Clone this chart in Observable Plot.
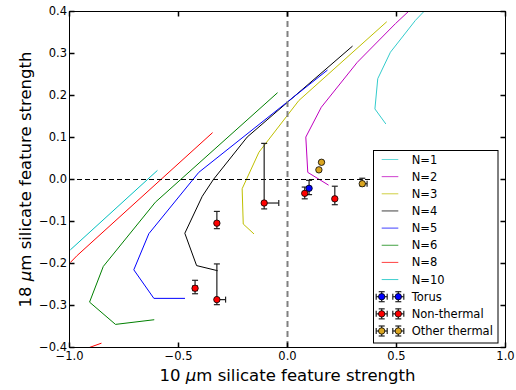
<!DOCTYPE html>
<html><head><meta charset="utf-8">
<script src="https://cdn.jsdelivr.net/npm/d3@7"></script>
<script src="https://cdn.jsdelivr.net/npm/@observablehq/plot@0.6"></script>
<style>
body{margin:0;background:#fff;}
#wrap{position:relative;width:516px;height:390px;font-family:"DejaVu Sans",sans-serif;}
#legend{position:absolute;left:373px;top:150px;}
</style></head><body><div id="wrap"></div>
<script>
// model curves (x = 10um strength, y = 18um strength)
const n1 = [[0.450,0.133],[0.401,0.168],[0.414,0.240],[0.472,0.303],[0.587,0.379],[0.635,0.405]];
const n2 = [[0.187,-0.013],[0.093,0.017],[0.084,0.101],[0.155,0.172],[0.320,0.279],[0.495,0.371],[0.565,0.405]];
const n3 = [[-0.155,-0.129],[-0.203,-0.106],[-0.208,-0.022],[-0.131,0.065],[0.052,0.188],[0.454,0.375]];
const n4 = [[-0.322,-0.217],[-0.417,-0.205],[-0.471,-0.128],[-0.391,-0.040],[-0.340,0.000],[-0.185,0.101],[0.297,0.317]];
const n5 = [[-0.472,-0.283],[-0.613,-0.283],[-0.705,-0.215],[-0.636,-0.129],[-0.407,0.017],[0.182,0.260]];
const n6 = [[-0.613,-0.334],[-0.789,-0.345],[-0.908,-0.292],[-0.845,-0.207],[-0.606,-0.054],[-0.047,0.206]];
const n8 = [[-0.995,-0.197],[-0.965,-0.181],[-0.345,0.111]];
const n8b = [[-0.925,-0.403],[-0.855,-0.390]];
const n10 = [[-0.995,-0.167],[-0.598,0.021]];

const seriesNames = ["N=1","N=2","N=3","N=4","N=5","N=6","N=8","N=10"];
const seriesColors = ["#33cccc","#bf00bf","#bfbf00","#000000","#0000ff","#008000","#ff0000","#00bfbf"];
const seriesData = [n1,n2,n3,n4,n5,n6,n8,n10];

// observations: [x, y, xlo, xhi, ylo, yhi]
const torus = [[0.099,-0.021,0.099,0.099,-0.036,-0.002]];
const nonThermal = [
  [-0.107,-0.056,-0.107,-0.040,-0.070,0.086],
  [-0.324,-0.104,-0.324,-0.324,-0.117,-0.076],
  [-0.424,-0.259,-0.434,-0.414,-0.272,-0.240],
  [-0.324,-0.286,-0.330,-0.284,-0.298,-0.201],
  [0.079,-0.033,0.079,0.079,-0.046,-0.018],
  [0.217,-0.046,0.217,0.217,-0.060,-0.016]
];
const otherThermal = [
  [0.156,0.041,0.156,0.156,0.041,0.041],
  [0.144,0.023,0.144,0.144,0.023,0.023],
  [0.343,-0.010,0.335,0.365,-0.015,0.003]
];
const groupNames = ["Torus","Non-thermal","Other thermal"];
const groupColors = ["#0000ff","#ff0000","#daa520"];

const xTicks = [-1.0,-0.5,0.0,0.5,1.0];
const yTicks = [-0.4,-0.3,-0.2,-0.1,0.0,0.1,0.2,0.3,0.4];
const xLabel = "10 μm silicate feature strength";
const yLabel = "18 μm silicate feature strength";

const lineRows = seriesData.flatMap((s,i)=>s.map(p=>({x:p[0],y:p[1],n:seriesNames[i]})));
const extraRows = n8b.map(p=>({x:p[0],y:p[1],n:"N=8b"}));
const colorOf = Object.fromEntries(seriesNames.map((n,i)=>[n,seriesColors[i]]));

const pts = [torus,nonThermal,otherThermal].flatMap((g,i)=>g.map(p=>({x:p[0],y:p[1],xlo:p[2],xhi:p[3],ylo:p[4],yhi:p[5],c:groupColors[i]})));

const sym = (f)=>({draw(c){f(c);}});
const tickRight = sym(c=>{c.moveTo(0,0);c.lineTo(5,0);});
const tickLeft = sym(c=>{c.moveTo(0,0);c.lineTo(-5,0);});
const tickUp = sym(c=>{c.moveTo(0,0);c.lineTo(0,-5);});
const tickDown = sym(c=>{c.moveTo(0,0);c.lineTo(0,5);});
const hcap = sym(c=>{c.moveTo(-3,0);c.lineTo(3,0);});
const vcap = sym(c=>{c.moveTo(0,-3);c.lineTo(0,3);});

const hasX = pts.filter(d=>d.xlo!==d.x||d.xhi!==d.x);
const hasY = pts.filter(d=>d.ylo!==d.y||d.yhi!==d.y);

const chart = Plot.plot({
  width: 516, height: 390,
  marginLeft: 69, marginRight: 11, marginTop: 11, marginBottom: 43,
  x: {domain: [-1,1]},
  y: {domain: [-0.4,0.4]},
  style: {fontFamily: "DejaVu Sans", fontSize: "11.5px", background: "white", overflow: "visible", color: "black"},
  marks: [
    Plot.line(lineRows, {x:"x", y:"y", z:"n", stroke: d=>colorOf[d.n], strokeWidth: 1, clip: true}),
    Plot.line(extraRows, {x:"x", y:"y", stroke: "#ff0000", strokeWidth: 1, clip: true}),
    Plot.ruleY([0], {stroke:"black", strokeWidth:1, strokeDasharray:"5,3"}),
    Plot.ruleX([0], {stroke:"#808080", strokeWidth:2, strokeDasharray:"6,4"}),
    Plot.link(hasX, {x1:"xlo", x2:"xhi", y1:"y", y2:"y", stroke:"#222", strokeWidth:1.2}),
    Plot.link(hasY, {x1:"x", x2:"x", y1:"ylo", y2:"yhi", stroke:"#222", strokeWidth:1.2}),
    Plot.dot(hasX, {x:"xlo", y:"y", symbol: vcap, stroke:"#222", fill:"none", strokeWidth:1.2}),
    Plot.dot(hasX, {x:"xhi", y:"y", symbol: vcap, stroke:"#222", fill:"none", strokeWidth:1.2}),
    Plot.dot(hasY, {x:"x", y:"ylo", symbol: hcap, stroke:"#222", fill:"none", strokeWidth:1.2}),
    Plot.dot(hasY, {x:"x", y:"yhi", symbol: hcap, stroke:"#222", fill:"none", strokeWidth:1.2}),
    Plot.dot(pts, {x:"x", y:"y", r:3.2, fill: d=>d.c, stroke:"black", strokeWidth:0.8}),
    Plot.axisX(xTicks, {tickSize:0, tickPadding:4, tickFormat: d3.format(".1f"), label: null}),
    Plot.axisY(yTicks, {tickSize:0, tickPadding:2.5, tickFormat: d3.format(".1f"), label: null}),
    Plot.dot(yTicks, {y: d=>d, frameAnchor:"left", symbol: tickRight, stroke:"black", fill:"none"}),
    Plot.dot(yTicks, {y: d=>d, frameAnchor:"right", symbol: tickLeft, stroke:"black", fill:"none"}),
    Plot.dot(xTicks, {x: d=>d, frameAnchor:"bottom", symbol: tickUp, stroke:"black", fill:"none"}),
    Plot.dot(xTicks, {x: d=>d, frameAnchor:"top", symbol: tickDown, stroke:"black", fill:"none"}),
    Plot.frame({stroke:"black", strokeWidth:1}),
    Plot.text([xLabel], {text: d=>d, frameAnchor:"bottom", dy: 33, lineAnchor:"bottom", textAnchor:"middle", fontSize: 16.5, fill:"black"}),
    Plot.text([yLabel], {text: d=>d, frameAnchor:"left", dx: -38.5, rotate: -90, lineAnchor:"bottom", textAnchor:"middle", fontSize: 16.5, fill:"black"})
  ]
});

// italic mu in axis labels
chart.querySelectorAll("text").forEach(t=>{
  const s = t.textContent;
  if (s.includes("μm silicate")) {
    const [a,b] = s.split("μ");
    while (t.firstChild) t.removeChild(t.firstChild);
    t.appendChild(document.createTextNode(a));
    const ts = document.createElementNS("http://www.w3.org/2000/svg","tspan");
    ts.setAttribute("font-style","italic");
    ts.textContent = "μ";
    t.appendChild(ts);
    t.appendChild(document.createTextNode(b));
  }
});

const wrap = document.getElementById("wrap");
wrap.appendChild(chart);

// legend
const NS = "http://www.w3.org/2000/svg";
const lg = document.createElementNS(NS,"svg");
lg.setAttribute("id","legend");
lg.setAttribute("width",126); lg.setAttribute("height",195);
lg.style.fontFamily = "DejaVu Sans";
lg.style.fontSize = "11.5px";
function el(name, attrs, parent){const e=document.createElementNS(NS,name);for(const k in attrs)e.setAttribute(k,attrs[k]);(parent||lg).appendChild(e);return e;}
el("rect",{x:0.5,y:0.5,width:124.5,height:192.5,fill:"white",stroke:"black","stroke-width":1});
const rowY = i => 9.5 + 17.15*i;
seriesNames.forEach((n,i)=>{
  el("line",{x1:8.7,x2:25.3,y1:rowY(i),y2:rowY(i),stroke:seriesColors[i],"stroke-width":1,"stroke-opacity":0.75});
  const t = el("text",{x:38.7,y:rowY(i),dy:"0.35em",fill:"black"}); t.textContent = n;
});
groupNames.forEach((n,j)=>{
  const i = seriesNames.length + j, y = rowY(i);
  [8.7,25.3].forEach(cx=>{
    el("line",{x1:cx-5.5,x2:cx+5.5,y1:y,y2:y,stroke:"#222","stroke-width":1.2});
    el("line",{x1:cx,x2:cx,y1:y-5,y2:y+5,stroke:"#222","stroke-width":1.2});
    el("line",{x1:cx-5.5,x2:cx-5.5,y1:y-3,y2:y+3,stroke:"#222","stroke-width":1.2});
    el("line",{x1:cx+5.5,x2:cx+5.5,y1:y-3,y2:y+3,stroke:"#222","stroke-width":1.2});
    el("line",{x1:cx-3,x2:cx+3,y1:y-5,y2:y-5,stroke:"#222","stroke-width":1.2});
    el("line",{x1:cx-3,x2:cx+3,y1:y+5,y2:y+5,stroke:"#222","stroke-width":1.2});
    el("circle",{cx:cx,cy:y,r:3.2,fill:groupColors[j],stroke:"black","stroke-width":0.8});
  });
  const t = el("text",{x:38.7,y:y,dy:"0.35em",fill:"black"}); t.textContent = n;
});
wrap.appendChild(lg);
</script></body></html>
